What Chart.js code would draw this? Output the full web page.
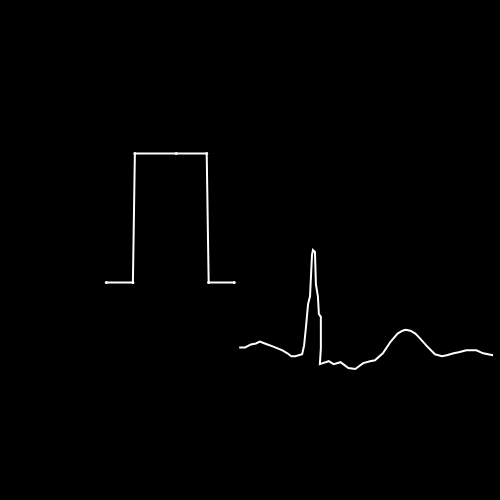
<!DOCTYPE html>
<html>
<head>
<meta charset="utf-8">
<script src="https://cdn.jsdelivr.net/npm/chart.js@4/dist/chart.umd.min.js"></script>
<style>
html,body{margin:0;padding:0;background:#000;}
#wrap{width:500px;height:500px;}
</style>
</head>
<body>
<div id="wrap"><canvas id="c" width="500" height="500"></canvas></div>
<script>
// Square pulse (x, amplitude)
const pulseX = [104, 131, 133, 175, 206, 208, 234];
const pulseY = [217, 217, 348, 348, 348, 217, 217];

// ECG-like trace (x, amplitude)
const ecgX = [239,245,251,256,260,265,273,283,288,292,296,303,305,307,309,311,313,314,316,317,319,320,322,322,321,324,330,335,342,350,357,365,372,377,385,393,400,405,408,413,418,422,430,438,445,450,457,462,470,480,487,497];
const ecgY = [151,151,154,155,157,155,152,148,145,142,142,144,153,173,195,203,245,250,248,215,203,185,182,150,134,135,137,134,136,130,129,135,137,138,145,157,165,168,169,168,165,161,152,144,142,143,145,146,148,148,145,143];

const pulse = pulseX.map((x,i)=>({x, y: pulseY[i]}));
const ecg = ecgX.map((x,i)=>({x, y: ecgY[i]}));

Chart.defaults.animation = false;
new Chart(document.getElementById('c'), {
  type: 'scatter',
  data: {
    datasets: [
      {data: pulse, showLine: true, borderColor: '#fff', backgroundColor: '#fff', borderWidth: 2, pointRadius: 1.5, pointBorderWidth: 0, tension: 0},
      {data: ecg, showLine: true, borderColor: '#fff', backgroundColor: '#fff', borderWidth: 2, pointRadius: 0, tension: 0}
    ]
  },
  options: {
    responsive: false,
    maintainAspectRatio: false,
    layout: {padding: 0},
    plugins: {legend: {display: false}, tooltip: {enabled: false}},
    scales: {
      x: {type: 'linear', min: 0, max: 500, display: false},
      y: {type: 'linear', min: 0, max: 500, display: false}
    }
  },
  plugins: [{
    id: 'bg',
    beforeDraw(chart){
      const ctx = chart.ctx;
      ctx.save();
      ctx.fillStyle = '#000';
      ctx.fillRect(0,0,chart.width,chart.height);
      ctx.restore();
    }
  }]
});
</script>
</body>
</html>
